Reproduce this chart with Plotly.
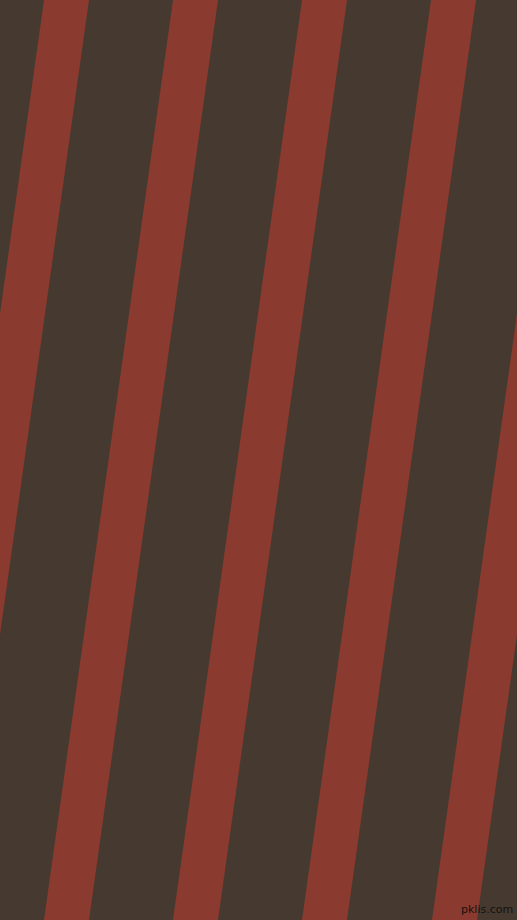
import plotly.graph_objects as go

# stripe pattern (pixels, origin top-left)
stripe_left_top = [44, 173, 302, 431, 561]   # left edge of each red band at y = 0
stripe_width = 45                             # horizontal width of a band
stripe_drift = 129                            # how far a band moves left from top to bottom
canvas_w = 517
canvas_h = 920

DARK = "#463a30"
RED = "#8a3a2e"

fig = go.Figure()

for x0 in stripe_left_top:
    xs = [x0, x0 + stripe_width, x0 + stripe_width - stripe_drift, x0 - stripe_drift, x0]
    ys = [0, 0, canvas_h, canvas_h, 0]
    fig.add_trace(go.Scatter(x=xs, y=ys, mode="lines", fill="toself",
                             fillcolor=RED, line=dict(width=0, color=RED),
                             hoverinfo="skip", showlegend=False))

# small site mark in the bottom right corner
fig.add_annotation(text="pklis.com", x=1, y=0, xref="paper", yref="paper",
                   xanchor="right", yanchor="bottom", xshift=-2, yshift=2,
                   showarrow=False,
                   font=dict(family="DejaVu Sans", size=11, color="#141210"))

fig.update_xaxes(range=[0, canvas_w], visible=False, fixedrange=True)
fig.update_yaxes(range=[canvas_h, 0], visible=False, fixedrange=True)
fig.update_layout(width=canvas_w, height=canvas_h,
                  margin=dict(l=0, r=0, t=0, b=0, pad=0),
                  paper_bgcolor=DARK, plot_bgcolor=DARK)

fig.write_html("out.html", config={"displayModeBar": False},
               post_script="document.body.style.margin='0';")
